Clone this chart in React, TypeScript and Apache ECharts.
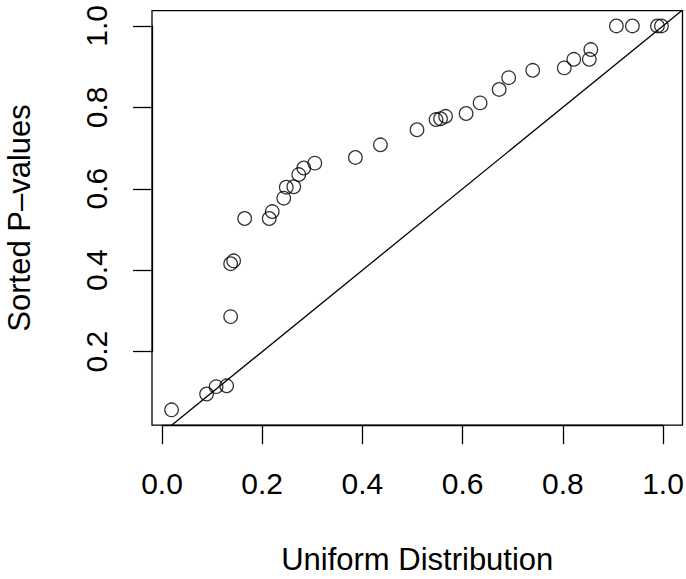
import React, { useEffect, useRef } from "react";
import * as echarts from "echarts";

// Values
const uniformX = [
  0.019, 0.089, 0.108, 0.129, 0.137, 0.137, 0.143, 0.165, 0.214, 0.22,
  0.243, 0.248, 0.263, 0.273, 0.283, 0.305, 0.386, 0.436, 0.509, 0.547,
  0.556, 0.566, 0.607, 0.635, 0.673, 0.692, 0.74, 0.803, 0.822, 0.853,
  0.856, 0.907, 0.939, 0.989, 0.997,
];
const sortedP = [
  0.057, 0.096, 0.114, 0.116, 0.286, 0.416, 0.423, 0.527, 0.527, 0.544,
  0.577, 0.604, 0.605, 0.635, 0.651, 0.663, 0.677, 0.708, 0.745, 0.77,
  0.772, 0.778, 0.785, 0.811, 0.844, 0.873, 0.891, 0.897, 0.918, 0.918,
  0.942, 1.0, 1.0, 1.0, 1.0,
];
// reference line y = a + b x
const ablineA = 0;
const ablineB = 1;
const ablineX = [-0.1, 1.2];

const xTicks = [0, 0.2, 0.4, 0.6, 0.8, 1.0];
const yTicks = [0.2, 0.4, 0.6, 0.8, 1.0];
const xTitle = "Uniform Distribution";
const yTitle = "Sorted P\u2013values";

const FONT = "'Liberation Sans', Arial, Helvetica, sans-serif";
const FS_TICK = 30;
const FS_TITLE = 31;
const LW = 1.3;

export default function App() {
  const ref = useRef<HTMLDivElement>(null);
  useEffect(() => {
    if (!ref.current) return;
    const chart = echarts.init(ref.current, undefined, { renderer: "svg" });
    const points = uniformX.map((x, i) => [x, sortedP[i]]);
    const line = ablineX.map((x) => [x, ablineA + ablineB * x]);
    const lineStyle = { color: "#000", width: LW };
    chart.setOption({
      animation: false,
      backgroundColor: "#fff",
      textStyle: { fontFamily: FONT },
      grid: [
        { left: 152, right: 3.5, top: 10.6, bottom: 153.8, show: true, borderColor: "#000", borderWidth: LW, backgroundColor: "transparent", containLabel: false, outerBoundsMode: "none" },
        { left: 162, right: 23, top: 10.6, bottom: 153.8, containLabel: false, outerBoundsMode: "none" },
        { left: 152, right: 3.5, top: 25.9, bottom: 227.4, containLabel: false, outerBoundsMode: "none" },
      ],
      xAxis: [
        {
          gridIndex: 0, type: "value", min: -0.02, max: 1.039,
          axisLine: { show: false }, axisTick: { show: false }, axisLabel: { show: false }, splitLine: { show: false },
          name: xTitle, nameLocation: "middle", nameGap: 119,
          nameTextStyle: { fontSize: FS_TITLE, color: "#000", fontFamily: FONT },
        },
        {
          gridIndex: 1, type: "value", min: xTicks[0], max: xTicks[xTicks.length - 1], interval: 0.2,
          axisLine: { show: true, lineStyle },
          axisTick: { show: true, length: 19, lineStyle },
          axisLabel: { fontSize: FS_TICK, color: "#000", margin: 43.5, fontFamily: FONT, formatter: (v: number) => v.toFixed(1) },
          splitLine: { show: false },
        },
        { gridIndex: 2, type: "value", show: false, min: 0, max: 1 },
      ],
      yAxis: [
        {
          gridIndex: 0, type: "value", min: 0.0193, max: 1.0377,
          axisLine: { show: false }, axisTick: { show: false }, axisLabel: { show: false }, splitLine: { show: false },
          name: yTitle, nameLocation: "middle", nameGap: 117.5,
          nameTextStyle: { fontSize: FS_TITLE, color: "#000", fontFamily: FONT },
        },
        { gridIndex: 1, type: "value", show: false, min: 0, max: 1 },
        {
          gridIndex: 2, type: "value", min: yTicks[0], max: yTicks[yTicks.length - 1], interval: 0.2,
          axisLine: { show: true, lineStyle },
          axisTick: { show: true, length: 19, lineStyle },
          axisLabel: { fontSize: FS_TICK, color: "#000", margin: 41, rotate: 90, fontFamily: FONT, formatter: (v: number) => v.toFixed(1) },
          splitLine: { show: false },
        },
      ],
      series: [
        {
          type: "line", xAxisIndex: 0, yAxisIndex: 0, data: line, clip: true,
          symbol: "none", lineStyle, silent: true,
        },
        {
          type: "scatter", xAxisIndex: 0, yAxisIndex: 0, data: points,
          symbol: "circle", symbolSize: 13.5,
          itemStyle: { color: "rgba(0,0,0,0)", borderColor: "#000", borderWidth: LW },
        },
      ],
    });
    return () => chart.dispose();
  }, []);
  return <div ref={ref} style={{ position: "fixed", left: 0, top: 0, width: 686, height: 579 }} />;
}
